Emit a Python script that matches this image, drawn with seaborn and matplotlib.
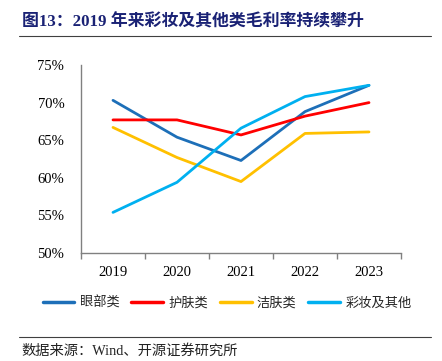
import matplotlib
matplotlib.use("Agg")
import matplotlib.pyplot as plt
import seaborn as sns
import pandas as pd
from matplotlib.ticker import FixedLocator, FuncFormatter
from matplotlib.lines import Line2D

years = [2019, 2020, 2021, 2022, 2023]
series_names = ["眼部类", "护肤类", "洁肤类", "彩妆及其他"]
eye = [70.3, 65.4, 62.3, 68.8, 72.3]
skin = [67.7, 67.7, 65.7, 68.2, 70.0]
clean = [66.7, 62.7, 59.5, 65.9, 66.1]
makeup = [55.4, 59.4, 66.6, 70.8, 72.3]
colors = ["#1D6FB8", "#FF0000", "#FFC000", "#00B0F0"]
title = "图13：2019 年来彩妆及其他类毛利率持续攀升"
source = "数据来源：Wind、开源证券研究所"

sns.set_theme(style="white")
plt.rcParams['font.family'] = ['Liberation Serif', 'Noto Sans CJK SC', 'DejaVu Sans']

rows = []
for name, vals in zip(series_names, [eye, skin, clean, makeup]):
    for y, v in zip(years, vals):
        rows.append({"year": y, "value": v, "series": name})
df = pd.DataFrame(rows)

fig = plt.figure(figsize=(4.42, 3.61), dpi=100)
ax = fig.add_axes([81/442, 1-253/361, 320/442, 188/361])
sns.lineplot(data=df, x="year", y="value", hue="series", hue_order=series_names,
             palette=colors, linewidth=2.0, ax=ax, legend=False)

ax.set_xlim(2018.5, 2023.5)
ax.set_ylim(50, 75)
ax.set_yticks([50, 55, 60, 65, 70, 75])
ax.yaxis.set_major_formatter(FuncFormatter(lambda v, p: f"{int(v)}%"))
ax.set_xticks(years)
ax.set_xticklabels([str(y) for y in years])
ax.xaxis.set_minor_locator(FixedLocator([2018.5 + i for i in range(6)]))
ax.tick_params(axis='x', which='major', length=0, pad=9, labelsize=10.5, colors='black')
ax.tick_params(axis='x', which='minor', length=4, width=1, color='#808080', direction='out', bottom=True)
ax.tick_params(axis='y', which='major', length=0, pad=12, labelsize=10.5, colors='black')
ax.set_xlabel("")
ax.set_ylabel("")
for s in ["top", "right"]:
    ax.spines[s].set_visible(False)
for s in ["left", "bottom"]:
    ax.spines[s].set_color("#808080")
    ax.spines[s].set_linewidth(1.0)

handles = [Line2D([0], [0], color=c, lw=2.5) for c in colors]
fig.legend(handles, series_names, loc="center", bbox_to_anchor=(0.514, 1-303/361),
           ncol=4, frameon=False, handlelength=2.4, handletextpad=0.4,
           columnspacing=0.9, prop={'family': ['Noto Sans CJK SC'], 'size': 9.5})

fig.text(22/442, 1-22/361, title, fontsize=12.2, fontweight='bold', color='#1A2275',
         va='center', ha='left', family=['Liberation Serif', 'Noto Sans CJK SC'])
fig.add_artist(Line2D([19/442, 431/442], [1-36/361, 1-36/361], color='#404040', lw=0.8))
fig.add_artist(Line2D([19/442, 431/442], [1-337/361, 1-337/361], color='#404040', lw=0.8))
fig.text(21/442, 1-351/361, source, fontsize=10.3, color='#222222', va='center', ha='left',
         family=['Liberation Serif', 'Noto Sans CJK SC'])

fig.savefig("out.png", dpi=100)
